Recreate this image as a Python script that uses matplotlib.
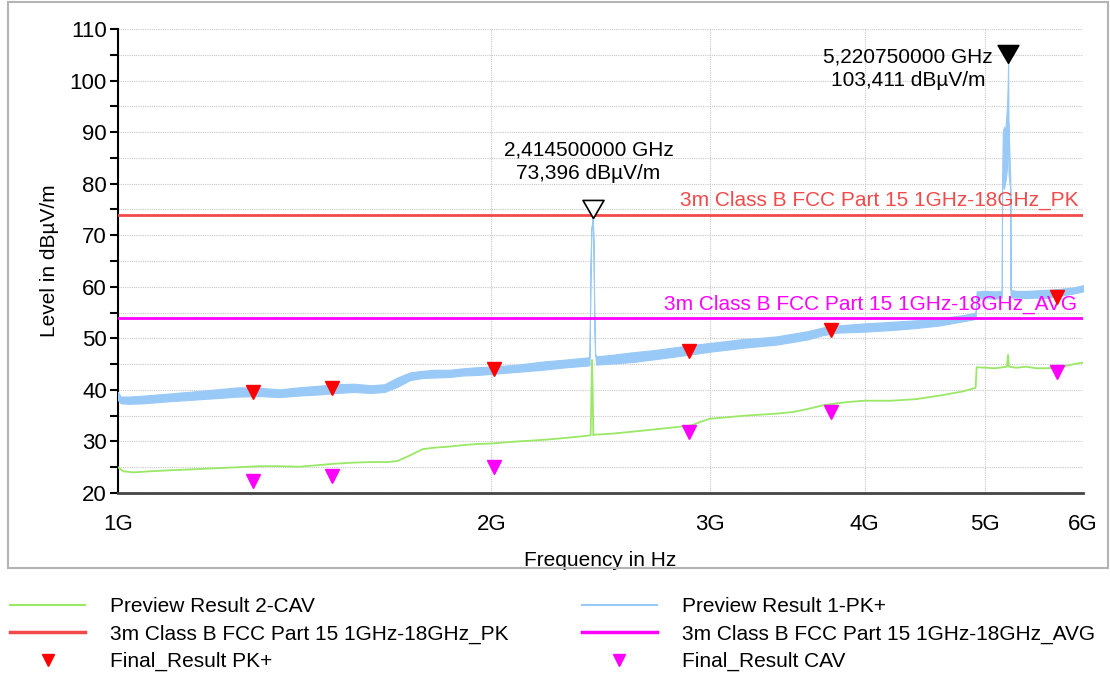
import matplotlib
matplotlib.use("Agg")
import matplotlib.pyplot as plt
from matplotlib.lines import Line2D
from matplotlib.patches import Rectangle

plt.rcParams['font.family'] = ['Liberation Sans', 'DejaVu Sans']

# Preview Result 1-PK+ (noise band: lower / upper envelope), GHz / dBuV/m
pk_freq = [1.000, 1.005, 1.02, 1.05, 1.10, 1.15, 1.20, 1.25, 1.30, 1.35, 1.40,
           1.45, 1.50, 1.55, 1.60, 1.64, 1.68, 1.72, 1.76, 1.80, 1.85, 1.90,
           1.95, 2.00, 2.10, 2.20, 2.30, 2.39, 2.400, 2.404, 2.408, 2.4145,
           2.418, 2.421, 2.425, 2.43, 2.50, 2.60, 2.70, 2.80, 2.90, 3.00,
           3.10, 3.20, 3.30, 3.40, 3.50, 3.60, 3.70, 3.80, 3.90, 4.00, 4.20,
           4.40, 4.60, 4.80, 4.90, 4.915, 4.925, 5.00, 5.10, 5.160, 5.163,
           5.170, 5.180, 5.190, 5.200, 5.210, 5.217, 5.22075, 5.225, 5.235,
           5.242, 5.245, 5.30, 5.40, 5.50, 5.60, 5.70, 5.80, 5.90, 6.00]
pk_lo = [38.0, 37.4, 37.3, 37.4, 37.8, 38.1, 38.4, 38.7, 38.8, 38.6, 38.9,
         39.1, 39.4, 39.6, 39.4, 39.6, 40.6, 41.9, 42.3, 42.4, 42.5, 42.8,
         42.9, 43.1, 43.5, 43.9, 44.4, 44.7, 44.8, 62.0, 71.0, 73.4,
         68.0, 55.0, 47.0, 44.9, 45.1, 45.4, 45.9, 46.4, 46.9, 47.4,
         47.8, 48.2, 48.5, 48.8, 49.3, 49.8, 50.6, 51.1, 51.2, 51.3, 51.6,
         52.0, 52.5, 53.3, 53.7, 53.9, 57.7, 57.8, 57.7, 57.9, 79.0,
         80.0, 79.0, 80.0, 81.0, 83.0, 88.0, 92.0, 82.0, 80.0,
         79.0, 57.9, 57.9, 57.8, 57.9, 57.8, 58.1, 58.4, 58.7, 59.1]
pk_hi = [39.6, 38.7, 38.7, 38.9, 39.3, 39.7, 40.1, 40.5, 40.4, 40.1, 40.5,
         40.8, 41.1, 41.2, 40.9, 41.1, 42.4, 43.4, 43.7, 43.9, 43.9, 44.2,
         44.4, 44.5, 44.9, 45.5, 45.9, 46.3, 46.4, 62.0, 71.0, 73.4,
         68.0, 55.0, 47.0, 46.5, 46.8, 47.3, 47.7, 48.2, 48.7, 49.1,
         49.5, 49.9, 50.1, 50.4, 50.9, 51.4, 52.1, 52.5, 52.7, 52.9, 53.2,
         53.5, 53.9, 54.5, 54.9, 55.1, 59.1, 59.2, 59.1, 59.2, 81.0,
         90.0, 91.0, 90.0, 92.0, 95.0, 99.0, 103.4, 92.0, 85.0,
         81.0, 59.4, 59.2, 59.2, 59.3, 59.4, 59.5, 59.7, 59.9, 60.3]

# Preview Result 2-CAV
cav_freq = [1.000, 1.01, 1.03, 1.06, 1.10, 1.15, 1.20, 1.25, 1.30, 1.35, 1.40,
            1.45, 1.50, 1.55, 1.60, 1.65, 1.68, 1.72, 1.76, 1.80, 1.85, 1.90,
            1.95, 2.00, 2.10, 2.20, 2.30, 2.39, 2.405, 2.408, 2.411, 2.414,
            2.417, 2.42, 2.50, 2.60, 2.70, 2.80, 2.90, 2.95, 3.00, 3.10, 3.20,
            3.30, 3.40, 3.50, 3.60, 3.70, 3.80, 3.90, 4.00, 4.20, 4.40, 4.60,
            4.80, 4.915, 4.925, 5.00, 5.10, 5.21, 5.22, 5.23, 5.30, 5.40,
            5.50, 5.60, 5.70, 5.80, 5.90, 6.00]
cav_lvl = [25.0, 24.2, 24.0, 24.2, 24.4, 24.6, 24.8, 25.0, 25.2, 25.2, 25.1,
           25.4, 25.7, 25.9, 26.0, 26.0, 26.2, 27.3, 28.5, 28.8, 29.0, 29.3,
           29.5, 29.6, 30.0, 30.3, 30.7, 31.1, 31.2, 38.0, 45.8, 40.0,
           31.2, 31.3, 31.5, 31.9, 32.3, 32.7, 33.1, 33.8, 34.4, 34.7, 35.0,
           35.2, 35.4, 35.7, 36.3, 37.0, 37.4, 37.7, 37.9, 37.9, 38.2, 38.9,
           39.7, 40.4, 44.4, 44.3, 44.2, 44.5, 46.8, 44.5, 44.3, 44.5,
           44.2, 44.2, 44.3, 44.6, 45.0, 45.3]

# final measurements
final_freq = [1.285, 1.488, 2.01, 2.888, 3.76, 5.72]
final_pk = [39.6, 40.4, 44.1, 47.5, 51.6, 58.0]
final_cav = [22.3, 23.3, 25.0, 31.8, 35.7, 43.5]

# limits
limit_pk = 74
limit_avg = 54

# peak markers
peak_freq = [2.4145, 5.22075]
peak_lvl = [73.396, 103.411]
peak_text = ['2,414500000 GHz\n73,396 dBµV/m', '5,220750000 GHz\n103,411 dBµV/m']

blue = '#99c9f7'
green = '#99e866'
red = '#f24a4a'
magenta = '#ff00ff'
fs = 15

fig = plt.figure(figsize=(11.1, 6.75), dpi=100)
ax = fig.add_axes([118 / 1110, 1 - 493 / 675, (1083 - 118) / 1110, (493 - 29) / 675])

ax.set_xscale('log')
ax.set_xlim(1.0, 6.0)
ax.set_ylim(20, 110)

ax.fill_between(pk_freq, pk_lo, pk_hi, color=blue, lw=0.8, zorder=3)
ax.plot(cav_freq, cav_lvl, color=green, lw=1.3, zorder=4)

ax.axhline(limit_pk, color=red, lw=2, zorder=5)
ax.axhline(limit_avg, color=magenta, lw=2, zorder=5)
ax.annotate('3m Class B FCC Part 15 1GHz-18GHz_PK', xy=(6.0, limit_pk), xytext=(-3, 3),
            textcoords='offset points', ha='right', va='bottom', color=red, fontsize=fs)
ax.annotate('3m Class B FCC Part 15 1GHz-18GHz_AVG', xy=(6.0, limit_avg), xytext=(-4, 3),
            textcoords='offset points', ha='right', va='bottom', color=magenta, fontsize=fs)

ax.plot(final_freq, final_pk, 'v', color='#ff0000', ms=10, zorder=6, ls='none')
ax.plot(final_freq, final_cav, 'v', color=magenta, ms=10, zorder=6, ls='none')

# peak markers, tip on the value
tip = [(0, 0), (-0.58, 1), (0.58, 1), (0, 0)]
ax.plot(peak_freq[0], peak_lvl[0], marker=tip, ms=26, mfc='white', mec='black', mew=1.2, zorder=7)
ax.plot(peak_freq[1], peak_lvl[1], marker=tip, ms=26, mfc='black', mec='black', zorder=7)
ax.annotate(peak_text[0], xy=(peak_freq[0], peak_lvl[0]), xytext=(-3, 40), textcoords='offset points',
            ha='center', va='center', fontsize=fs, linespacing=1.3)
ax.annotate(peak_text[1], xy=(peak_freq[1], peak_lvl[1]), xytext=(-72, -4), textcoords='offset points',
            ha='center', va='center', fontsize=fs, linespacing=1.3)

# axes styling
for s in ['top', 'right']:
    ax.spines[s].set_visible(False)
ax.spines['left'].set_linewidth(1.5)
ax.spines['bottom'].set_linewidth(2)
ax.spines['bottom'].set_color('#444444')

ax.set_xticks([1, 2, 3, 4, 5, 6])
ax.set_xticklabels(['1G', '2G', '3G', '4G', '5G', '6G'])
ax.minorticks_off()
ax.set_yticks(range(20, 111, 10))
ax.set_yticks(range(25, 110, 10), minor=True)
ax.tick_params(axis='x', length=0, pad=15, labelsize=16)
ax.tick_params(axis='y', which='both', length=6, width=1.5, direction='out', labelsize=16, pad=2)
ax.grid(True, which='both', axis='y', ls=(0, (1, 1)), color='#c8c8c8', lw=0.8)
ax.grid(True, which='major', axis='x', ls=(0, (1, 1)), color='#c8c8c8', lw=0.8)
ax.set_axisbelow(True)

ax.set_xlabel('Frequency in Hz', fontsize=fs, labelpad=12)
ax.set_ylabel('Level in dBµV/m', fontsize=fs, labelpad=8)

# frame around the chart
fig.add_artist(Rectangle((8 / 1110, 1 - 568 / 675), 1100 / 1110, 566 / 675,
                         transform=fig.transFigure, fill=False, ec='#b4b4b4', lw=1.5))

handles = [Line2D([], [], color=green, lw=1.5),
           Line2D([], [], color=red, lw=2.5),
           Line2D([], [], color='#ff0000', marker='v', ls='none', ms=9),
           Line2D([], [], color=blue, lw=1.5),
           Line2D([], [], color=magenta, lw=2.5),
           Line2D([], [], color=magenta, marker='v', ls='none', ms=9)]
labels = ['Preview Result 2-CAV', '3m Class B FCC Part 15 1GHz-18GHz_PK', 'Final_Result PK+',
          'Preview Result 1-PK+', '3m Class B FCC Part 15 1GHz-18GHz_AVG', 'Final_Result CAV']
fig.legend(handles, labels, ncol=2, loc='upper left', bbox_to_anchor=(10 / 1110, 1 - 597 / 675),
           frameon=False, fontsize=fs, handlelength=3.6, handletextpad=1.2, labelspacing=0.4,
           columnspacing=3.5, borderpad=0, borderaxespad=0)

fig.savefig('out.png', dpi=100)
